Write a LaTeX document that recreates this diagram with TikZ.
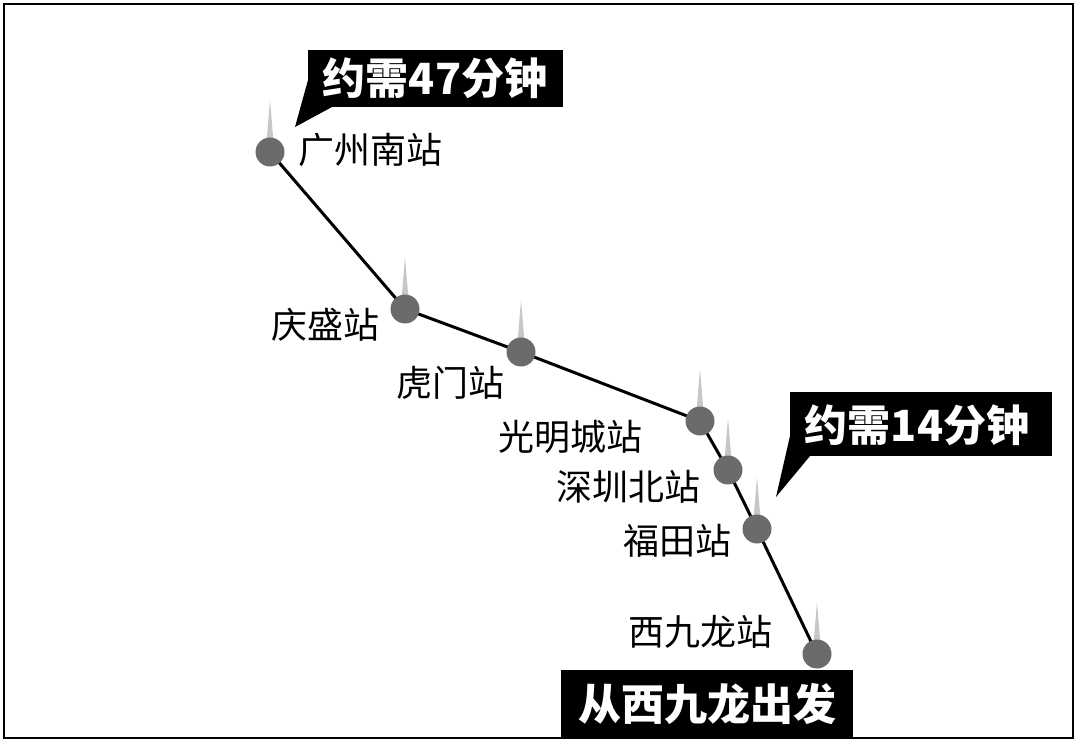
\documentclass[tikz,border=0pt]{standalone}
\usepackage{fontspec}
\usetikzlibrary{calc}
\newfontfamily\cjk{Noto Sans CJK SC}
\begin{document}
\begin{tikzpicture}[x=1pt,y=-1pt,
  dot/.style={circle,fill=black!58,minimum size=29pt,inner sep=0pt},
  lbl/.style={font=\cjk\fontsize{36}{36}\selectfont,inner sep=0pt},
  call/.style={fill=black,text=white,font=\cjk\bfseries\fontsize{43}{43}\selectfont,inner sep=0pt}]
\useasboundingbox (0,0) rectangle (1080,751);
\draw[line width=2.5pt] (4,4) rectangle (1073,738);
\newcommand\myspike[1]{\fill[black!22] ($(#1)+(-3.5,-10)$) -- ($(#1)+(0,-52)$) -- ($(#1)+(3.5,-10)$) -- cycle;}
\coordinate (pa) at (270,152);
\coordinate (pb) at (405,309);
\coordinate (pc) at (521,352);
\coordinate (pd) at (700,421);
\coordinate (pe) at (728,470);
\coordinate (pf) at (757,529);
\coordinate (pg) at (817,654);
\foreach \p in {pa,pb,pc,pd,pe,pf,pg} {\myspike{\p}}
\draw[line width=3pt] (pa) -- (pb) -- (pc) -- (pd) -- (pe) -- (pf) -- (pg);
\foreach \p in {pa,pb,pc,pd,pe,pf,pg} {\node[dot] (d\p) at (\p) {};}
\node[lbl,anchor=west] (la) at (298,150) {广州南站};
\node[lbl] (lb) at (325,325) {庆盛站};
\node[lbl] (lc) at (450,383) {虎门站};
\node[lbl] (ld) at (570,437) {光明城站};
\node[lbl] (le) at (628,487) {深圳北站};
\node[lbl] (lf) at (677,541) {福田站};
\node[lbl] (lg) at (700,632) {西九龙站};
% callout 1
\fill (308,50) rectangle (563,107);
\fill (308,80) -- (295,127) -- (332,107) -- cycle;
\node[call] (c1) at (435,78) {约需47分钟};
% callout 2
\fill (790,392) rectangle (1052,456);
\fill (790,436) -- (776,497) -- (810,456) -- cycle;
\node[call] (c2) at (917,425) {约需14分钟};
% bottom
\node[call,minimum width=292pt,minimum height=68pt] (c3) at (707,704) {从西九龙出发};
\end{tikzpicture}
\end{document}
